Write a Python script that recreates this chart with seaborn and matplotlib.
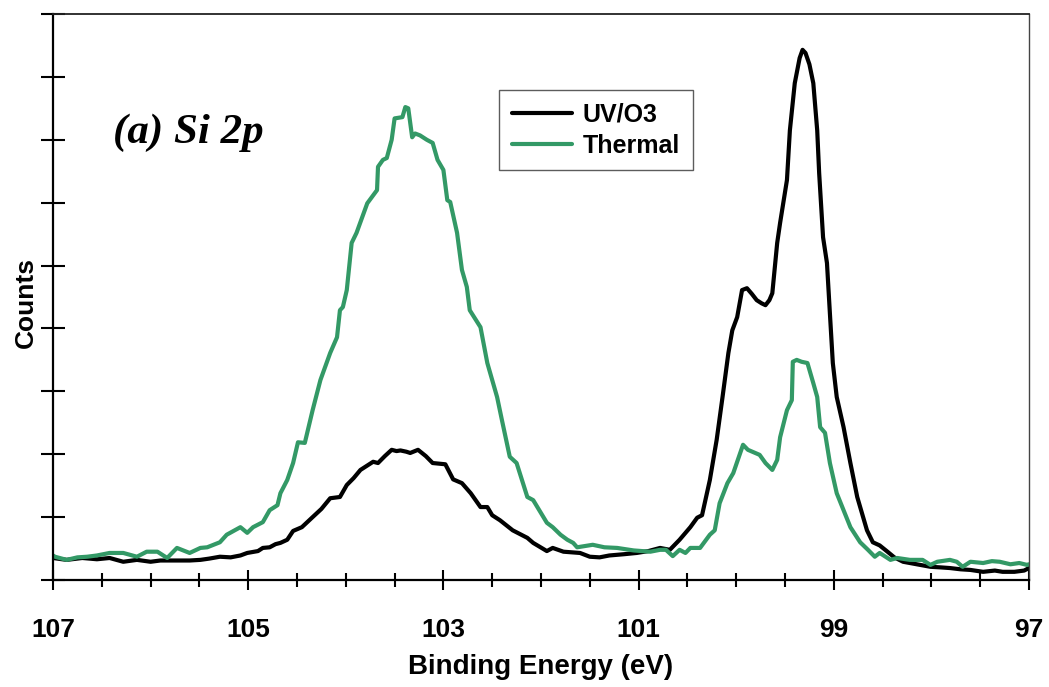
import matplotlib
matplotlib.use("Agg")
import matplotlib.pyplot as plt
import seaborn as sns
import pandas as pd
from matplotlib.ticker import MultipleLocator
from matplotlib.lines import Line2D

# ---- data ----
uv_energy = [107.0, 106.86, 106.7, 106.55, 106.42, 106.28, 106.14, 106.0, 105.9, 105.75,
             105.6, 105.49, 105.4, 105.29, 105.18, 105.08, 105.01, 104.9, 104.85, 104.78,
             104.72, 104.67, 104.6, 104.54, 104.45, 104.34, 104.25, 104.16, 104.06, 103.99,
             103.92, 103.85, 103.72, 103.67, 103.6, 103.53, 103.48, 103.44, 103.38, 103.34,
             103.26, 103.18, 103.11, 102.98, 102.9, 102.81, 102.72, 102.62, 102.55, 102.5,
             102.42, 102.29, 102.14, 102.08, 101.94, 101.88, 101.77, 101.6, 101.5, 101.4,
             101.3, 101.15, 101.02, 100.9, 100.78, 100.68, 100.58, 100.47, 100.4, 100.35,
             100.27, 100.2, 100.14, 100.08, 100.04, 99.99, 99.94, 99.89, 99.84, 99.79,
             99.74, 99.7, 99.66, 99.63, 99.58, 99.55, 99.48, 99.45, 99.4, 99.38,
             99.35, 99.32, 99.29, 99.25, 99.21, 99.17, 99.15, 99.11, 99.07, 99.04,
             99.01, 98.97, 98.9, 98.83, 98.76, 98.66, 98.6, 98.53, 98.45, 98.38,
             98.29, 98.15, 98.01, 97.9, 97.81, 97.7, 97.6, 97.47, 97.35, 97.27,
             97.15, 97.05, 97.0]
uv_counts = [0.35, 0.32, 0.35, 0.33, 0.35, 0.29, 0.32, 0.29, 0.31, 0.31,
             0.31, 0.32, 0.34, 0.37, 0.36, 0.39, 0.43, 0.46, 0.51, 0.52,
             0.57, 0.59, 0.64, 0.78, 0.84, 1.0, 1.13, 1.3, 1.32, 1.51,
             1.62, 1.75, 1.88, 1.86, 1.97, 2.07, 2.05, 2.06, 2.04, 2.02,
             2.07, 1.97, 1.86, 1.84, 1.6, 1.54, 1.38, 1.16, 1.16, 1.03,
             0.95, 0.79, 0.67, 0.59, 0.46, 0.51, 0.45, 0.43, 0.37, 0.36,
             0.39, 0.41, 0.43, 0.46, 0.51, 0.48, 0.64, 0.84, 0.99, 1.03,
             1.59, 2.23, 2.91, 3.61, 3.97, 4.18, 4.61, 4.64, 4.55, 4.45,
             4.4, 4.37, 4.45, 4.56, 5.36, 5.68, 6.36, 7.15, 7.9, 8.06,
             8.3, 8.43, 8.38, 8.2, 7.9, 7.15, 6.47, 5.45, 5.04, 4.24,
             3.45, 2.91, 2.43, 1.86, 1.32, 0.79, 0.6, 0.55, 0.45, 0.36,
             0.29, 0.25, 0.21, 0.2, 0.19, 0.17, 0.16, 0.13, 0.15, 0.13,
             0.13, 0.15, 0.19]

th_energy = [107.0, 106.98, 106.86, 106.75, 106.65, 106.55, 106.42, 106.28, 106.14, 106.04,
             105.93, 105.83, 105.73, 105.6, 105.49, 105.42, 105.29, 105.22, 105.08, 105.01,
             104.95, 104.85, 104.78, 104.7, 104.67, 104.6, 104.54, 104.49, 104.42, 104.34,
             104.26, 104.16, 104.09, 104.06, 104.03, 103.99, 103.94, 103.89, 103.78, 103.68,
             103.67, 103.62, 103.58, 103.53, 103.5, 103.42, 103.39, 103.36, 103.32, 103.29,
             103.24, 103.17, 103.11, 103.06, 103.0, 102.96, 102.93, 102.86, 102.81, 102.76,
             102.73, 102.62, 102.55, 102.45, 102.4, 102.32, 102.25, 102.14, 102.08, 101.94,
             101.88, 101.8, 101.73, 101.67, 101.63, 101.55, 101.47, 101.35, 101.22, 101.05,
             100.88, 100.78, 100.72, 100.65, 100.58, 100.52, 100.47, 100.37, 100.27, 100.22,
             100.17, 100.09, 100.03, 99.93, 99.88, 99.82, 99.76, 99.7, 99.63, 99.58,
             99.55, 99.48, 99.43, 99.42, 99.38, 99.33, 99.27, 99.21, 99.17, 99.14,
             99.09, 99.04, 98.97, 98.9, 98.83, 98.73, 98.65, 98.58, 98.53, 98.47,
             98.42, 98.35, 98.22, 98.09, 98.01, 97.94, 97.81, 97.74, 97.68, 97.6,
             97.47, 97.38, 97.3, 97.19, 97.1, 97.02, 97.0]
th_counts = [0.39, 0.37, 0.32, 0.36, 0.37, 0.39, 0.43, 0.43, 0.37, 0.45,
             0.45, 0.35, 0.51, 0.43, 0.51, 0.52, 0.6, 0.72, 0.84, 0.75,
             0.84, 0.92, 1.11, 1.19, 1.38, 1.59, 1.86, 2.19, 2.18, 2.7,
             3.18, 3.61, 3.86, 4.29, 4.34, 4.61, 5.36, 5.52, 5.99, 6.2,
             6.57, 6.68, 6.71, 7.0, 7.34, 7.36, 7.52, 7.5, 7.04, 7.1,
             7.07, 7.0, 6.95, 6.68, 6.52, 6.04, 6.01, 5.52, 4.93, 4.66,
             4.29, 4.02, 3.45, 2.91, 2.54, 1.96, 1.86, 1.32, 1.27, 0.91,
             0.84, 0.72, 0.64, 0.59, 0.52, 0.54, 0.56, 0.52, 0.51, 0.47,
             0.45, 0.48, 0.48, 0.38, 0.48, 0.43, 0.51, 0.51, 0.72, 0.79,
             1.22, 1.54, 1.7, 2.15, 2.07, 2.03, 1.99, 1.86, 1.75, 1.91,
             2.27, 2.7, 2.86, 3.47, 3.5, 3.47, 3.45, 3.13, 2.91, 2.43,
             2.34, 1.86, 1.38, 1.11, 0.84, 0.6, 0.48, 0.37, 0.43, 0.37,
             0.32, 0.35, 0.32, 0.32, 0.24, 0.29, 0.32, 0.29, 0.21, 0.29,
             0.27, 0.3, 0.29, 0.25, 0.27, 0.24, 0.25]

series_names = ["UV/O3", "Thermal"]
series_colors = ["#000000", "#339966"]
x_major_ticks = [107, 105, 103, 101, 99, 97]

df = pd.concat([
    pd.DataFrame({"Energy": uv_energy, "Counts": uv_counts, "Sample": series_names[0]}),
    pd.DataFrame({"Energy": th_energy, "Counts": th_counts, "Sample": series_names[1]}),
], ignore_index=True)

# ---- style ----
sns.set_style("ticks")
plt.rcParams["font.family"] = ["Liberation Sans", "DejaVu Sans"]
plt.rcParams["text.color"] = "black"
plt.rcParams["axes.labelcolor"] = "black"
plt.rcParams["xtick.color"] = "black"
plt.rcParams["ytick.color"] = "black"

fig = plt.figure(figsize=(10.49, 6.87), dpi=100)
ax = fig.add_axes([53 / 1049, 1 - 580 / 687, 976 / 1049, 566 / 687])

sns.lineplot(data=df, x="Energy", y="Counts", hue="Sample",
             palette=dict(zip(series_names, series_colors)),
             estimator=None, sort=False, linewidth=3.0, ax=ax, legend=False)
for ln in ax.get_lines():
    ln.set_solid_joinstyle("round")
    ln.set_solid_capstyle("round")

ax.set_xlim(107, 97)
ax.set_ylim(0, 9)
ax.set_xticks(x_major_ticks)
ax.set_xticklabels([str(t) for t in x_major_ticks])
ax.xaxis.set_minor_locator(MultipleLocator(0.5))
ax.yaxis.set_major_locator(MultipleLocator(1))
ax.set_yticklabels([])

ax.tick_params(axis="x", which="major", direction="inout", length=15, width=1.5,
               pad=20, labelsize=19, colors="black")
ax.tick_params(axis="x", which="minor", direction="inout", length=9.5, width=1.5,
               colors="black")
ax.tick_params(axis="y", which="major", direction="inout", length=17, width=1.5,
               colors="black")
for lab in ax.get_xticklabels():
    lab.set_fontweight("bold")

for side in ["left", "bottom"]:
    ax.spines[side].set_linewidth(1.6)
    ax.spines[side].set_color("black")
ax.spines["top"].set_linewidth(1.3)
ax.spines["top"].set_color("#222222")
ax.spines["right"].set_linewidth(1.0)
ax.spines["right"].set_color("#444444")
for s in ax.spines.values():
    s.set_visible(True)

ax.set_xlabel("Binding Energy (eV)", fontsize=20, fontweight="bold", color="black")
ax.xaxis.set_label_coords(0.5, -0.13)
ax.set_ylabel("Counts", fontsize=19, fontweight="bold", color="black")
ax.yaxis.set_label_coords(-0.016, 0.49)

ax.text(0.061, 0.79, "(a) Si 2p", transform=ax.transAxes, fontsize=31,
        fontweight="bold", fontstyle="italic", family=["Liberation Serif", "DejaVu Serif"],
        va="center", ha="left", color="black")

handles = [Line2D([], [], color=c, linewidth=3.0) for c in series_colors]
leg = ax.legend(handles, series_names, loc="upper left", bbox_to_anchor=(0.457, 0.866),
                borderaxespad=0, fancybox=False, frameon=True, handlelength=2.4,
                handletextpad=0.45, borderpad=0.5, labelspacing=0.3,
                prop={"weight": "bold", "size": 18})
for t in leg.get_texts():
    t.set_color("black")
leg.get_frame().set_edgecolor("#333333")
leg.get_frame().set_linewidth(1.0)

fig.savefig("out.png", dpi=100)
